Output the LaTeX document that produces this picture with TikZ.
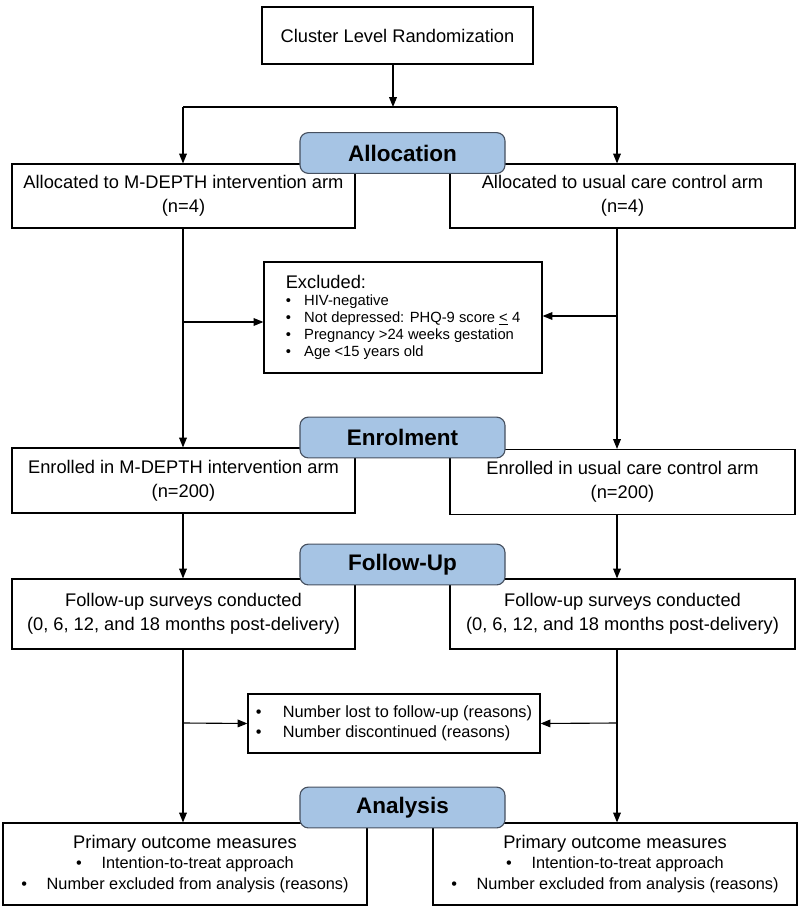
\documentclass[tikz,border=0pt]{standalone}
\usepackage{fontspec}
\setmainfont{Liberation Sans}
\usetikzlibrary{arrows.meta,positioning}
\definecolor{headfill}{RGB}{166,196,228}
\definecolor{headline}{RGB}{70,80,95}
\begin{document}
\begin{tikzpicture}[x=0.025cm,y=-0.025cm,
	box/.style = {draw, thick, align=center, font=\fontsize{13}{17}\selectfont, inner sep=2pt},
	small/.style = {font=\fontsize{11.6}{14.6}\selectfont},
	head/.style = {draw=headline, thick, fill=headfill, rounded corners=6pt, minimum width=5.125cm, minimum height=1.02cm, font=\fontsize{16}{19}\selectfont\bfseries},
	arr/.style = {-{Triangle[length=7pt,width=5.5pt]}, thick},
	ln/.style = {thick}]
	\useasboundingbox (0,0) rectangle (800,907);
	% columns
	\coordinate (cl) at (183,0);
	\coordinate (cr) at (617,0);
	% boxes
	\node[box, minimum width=6.775cm, minimum height=1.425cm] (rand) at (397.5,35.5) {Cluster Level Randomization};
	\node[box, minimum width=8.575cm, minimum height=1.6cm] (allocL) at (183.5,196) {Allocated to M-DEPTH intervention arm\\(n=4)};
	\node[box, minimum width=8.625cm, minimum height=1.6cm] (allocR) at (622.5,196) {Allocated to usual care control arm\\(n=4)};
	\node[box, minimum width=6.95cm, minimum height=2.775cm, align=left, font=\fontsize{10.5}{12}\selectfont] (excl) at (403,317.5) {%
		{\fontsize{13}{16}\selectfont Excluded:}\\
		\textbullet\hspace{0.9em}HIV-negative\\
		\textbullet\hspace{0.9em}Not depressed: PHQ-9 score \underline{<} 4\\
		\textbullet\hspace{0.9em}Pregnancy >24 weeks gestation\\
		\textbullet\hspace{0.9em}Age <15 years old};
	\node[box, minimum width=8.575cm, minimum height=1.625cm] (enrolL) at (183.5,480.5) {Enrolled in M-DEPTH intervention arm\\(n=200)};
	\node[box, minimum width=8.625cm, minimum height=1.625cm] (enrolR) at (622.5,482) {Enrolled in usual care control arm\\(n=200)};
	\node[box, minimum width=8.575cm, minimum height=1.75cm] (followL) at (183.5,614) {Follow-up surveys conducted\\(0, 6, 12, and 18 months post-delivery)};
	\node[box, minimum width=8.625cm, minimum height=1.75cm] (followR) at (622.5,614) {Follow-up surveys conducted\\(0, 6, 12, and 18 months post-delivery)};
	\node[box, small, minimum width=7.3cm, minimum height=1.475cm, align=left] (lost) at (394,723.5) {%
		\textbullet\hspace{1.3em}Number lost to follow-up (reasons)\\
		\textbullet\hspace{1.3em}Number discontinued (reasons)};
	\node[box, small, minimum width=9.1cm, minimum height=2.05cm] (anaL) at (185,864) {{\fontsize{13}{15}\selectfont Primary outcome measures}\\
		\textbullet\hspace{1.2em}Intention-to-treat approach\\
		\textbullet\hspace{1.2em}Number excluded from analysis (reasons)};
	\node[box, small, minimum width=9.1cm, minimum height=2.05cm] (anaR) at (615,864) {{\fontsize{13}{15}\selectfont Primary outcome measures}\\
		\textbullet\hspace{1.2em}Intention-to-treat approach\\
		\textbullet\hspace{1.2em}Number excluded from analysis (reasons)};
	% stage headers
	\node[head] (allocation) at (402.5,153) {Allocation};
	\node[head] (enrolment) at (402.5,437.5) {Enrolment};
	\node[head] (followup) at (402.5,564.5) {Follow-Up};
	\node[head] (analysis) at (402.5,807.5) {Analysis};
	% connectors
	\coordinate (split) at (393,107);
	\draw[arr] (rand.south -| split) -- (split);
	\draw[ln] (split -| cl) -- (split -| cr);
	\draw[line width=1.6pt] ([xshift=-2.7cm]split) -- ([xshift=3.05cm]split);
	\draw[arr] (split -| cl) -- (allocL.north -| cl);
	\draw[arr] (split -| cr) -- (allocR.north -| cr);
	\draw[arr] (allocL.south -| cl) -- (enrolL.north -| cl);
	\draw[arr] (allocR.south -| cr) -- (enrolR.north -| cr);
	\coordinate (exL) at (183,322);
	\coordinate (exR) at (617,316);
	\draw[arr] (exL) -- (exL -| excl.west);
	\draw[arr] (exR) -- (exR -| excl.east);
	\draw[arr] (enrolL.south -| cl) -- (followL.north -| cl);
	\draw[arr] (enrolR.south -| cr) -- (followR.north -| cr);
	\draw[arr] (followL.south -| cl) -- (anaL.north -| cl);
	\draw[arr] (followR.south -| cr) -- (anaR.north -| cr);
	\coordinate (loL) at (183,723);
	\coordinate (loR) at (617,723);
	\draw[arr] (loL) -- (lost.west);
	\draw[arr] (loR) -- (lost.east);
\end{tikzpicture}
\end{document}
